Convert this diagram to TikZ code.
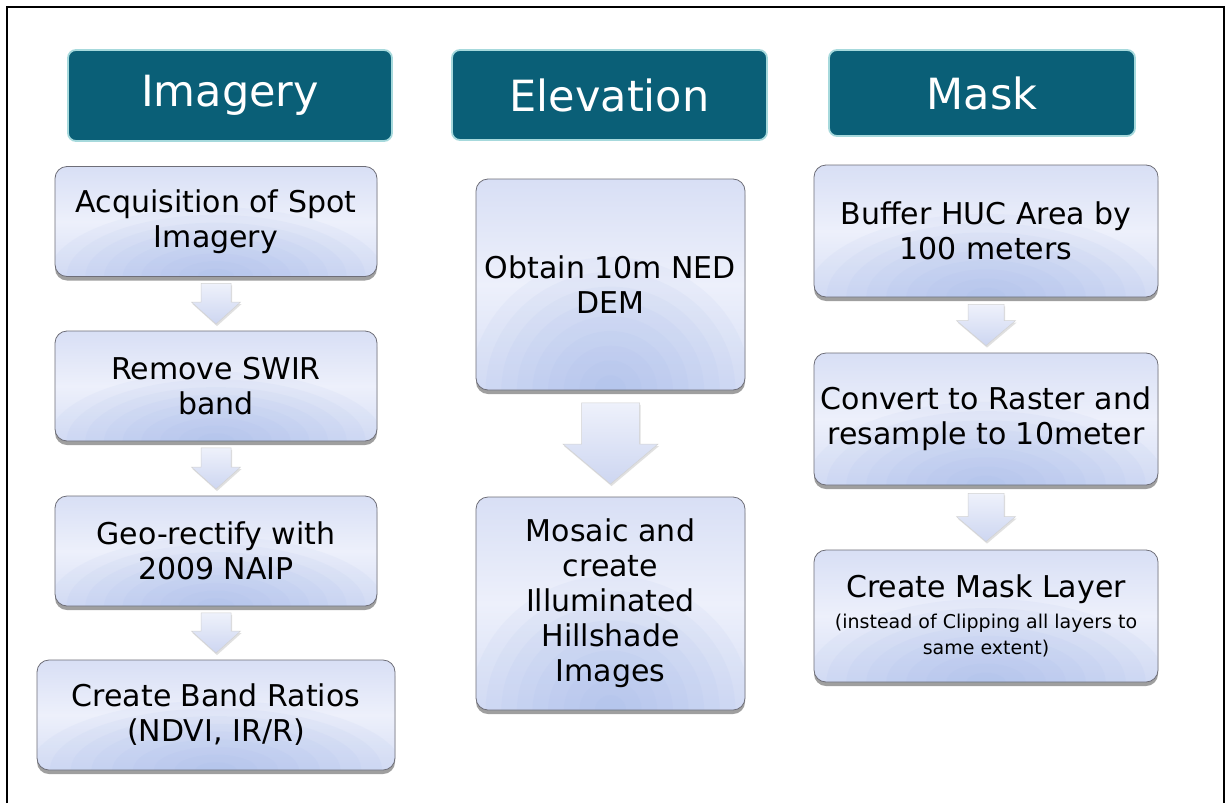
\documentclass[tikz,border=0pt]{standalone}
\usepackage{fontspec}
\setmainfont{DejaVu Sans}
\usetikzlibrary{shadows,calc}
\definecolor{tealfill}{HTML}{0A5F77}
\definecolor{tealedge}{HTML}{A6D9DC}
\definecolor{boxtop}{HTML}{D8DFF5}
\definecolor{boxmid}{HTML}{EDF0FB}
\definecolor{boxbot}{HTML}{D6DEF5}
\definecolor{boxglow}{HTML}{9CB3E8}
\definecolor{boxedge}{HTML}{6E6E78}
\definecolor{arrtop}{HTML}{EEF1FB}
\definecolor{arrbot}{HTML}{CDD6F1}
\tikzset{
  header/.style={draw=tealedge, line width=1.8pt, fill=tealfill, rounded corners=8pt,
    text=white, font=\fontsize{43}{48}\selectfont, inner sep=0pt},
  stepbox/.style={draw=boxedge, line width=0.8pt, rounded corners=12pt,
    top color=boxtop, bottom color=boxbot, middle color=boxmid,
    drop shadow={shadow xshift=0pt, shadow yshift=-4pt, opacity=0.5, fill=black!75},
    path picture={\foreach \k in {1,...,9}{%
        \path let \p1=(path picture bounding box.south west),
        \p2=(path picture bounding box.north east) in
        [fill=boxglow, opacity=0.075]
        ({(\x1+\x2)/2},{\y1}) ellipse ({(\x2-\x1)*0.058*\k} and {(\y2-\y1)*0.07*\k});}},
    align=center, font=\fontsize{30}{35}\selectfont, inner sep=0pt},
  barrow/.style={draw=gray!35, line width=0.5pt, top color=arrtop, bottom color=arrbot,
    drop shadow={shadow xshift=1pt, shadow yshift=-2pt, opacity=0.2, fill=black!60}},
  frame/.style={line width=2pt, draw=black}
}
\newcommand\blockarrow[6]{%
  \path[barrow] let \p1=(#1.south), \p2=(#2.north) in
    (\x1-#3pt,\y1-#6pt) -- (\x1+#3pt,\y1-#6pt) -- (\x1+#3pt,\y2+#6pt+#5pt)
    -- (\x1+#4pt,\y2+#6pt+#5pt) -- (\x1,\y2+#6pt) -- (\x1-#4pt,\y2+#6pt+#5pt)
    -- (\x1-#3pt,\y2+#6pt+#5pt) -- cycle;}
\begin{document}
\begin{tikzpicture}[x=1pt,y=-1pt]
\useasboundingbox (0,0) rectangle (1225,803);
\fill[white] (0,0) rectangle (1225,803);
\draw[frame] (6.5,803) -- (6.5,7) -- (1224,7) -- (1224,803);

% headers
\node[header, minimum width=324pt, minimum height=91pt] (hI) at (230,95.5) {Imagery};
\node[header, minimum width=315pt, minimum height=90pt] (hE) at (609.5,95) {Elevation};
\node[header, minimum width=306pt, minimum height=86pt] (hM) at (982,93) {Mask};

% imagery column
\node[stepbox, minimum width=322pt, minimum height=110pt] (i1) at (216,221.5) {Acquisition of Spot\\Imagery};
\node[stepbox, minimum width=322pt, minimum height=110pt] (i2) at (216,386) {Remove SWIR\\band};
\node[stepbox, minimum width=322pt, minimum height=110pt] (i3) at (216,551) {Geo-rectify with\\2009 NAIP};
\node[stepbox, minimum width=358pt, minimum height=110pt] (i4) at (216,715) {Create Band Ratios\\(NDVI, IR/R)};

% elevation column
\node[stepbox, minimum width=269pt, minimum height=211pt] (e1) at (610.5,284.5) {Obtain 10m NED\\DEM};
\node[stepbox, minimum width=269pt, minimum height=213pt] (e2) at (610.5,603.5) {Mosaic and\\create\\Illuminated\\Hillshade\\Images};

% mask column
\node[stepbox, minimum width=344pt, minimum height=132pt] (m1) at (986,231) {Buffer HUC Area by\\100 meters};
\node[stepbox, minimum width=344pt, minimum height=132pt] (m2) at (986,419) {Convert to Raster and\\resample to 10meter};
\node[stepbox, minimum width=344pt, minimum height=132pt] (m3) at (986,616) {Create Mask Layer\\[-4pt]{\fontsize{19}{24}\selectfont (instead of Clipping all layers to}\\[-9pt]{\fontsize{19}{24}\selectfont same extent)}};

% block arrows
\blockarrow{i1}{i2}{15}{24.5}{22}{6.5}
\blockarrow{i2}{i3}{15}{24.5}{22}{6.5}
\blockarrow{i3}{i4}{15}{24.5}{22}{6.5}
\blockarrow{e1}{e2}{29}{47.5}{40}{12.5}
\blockarrow{m1}{m2}{18}{29.5}{25}{7}
\blockarrow{m2}{m3}{18}{29.5}{25}{8}
\end{tikzpicture}
\end{document}
